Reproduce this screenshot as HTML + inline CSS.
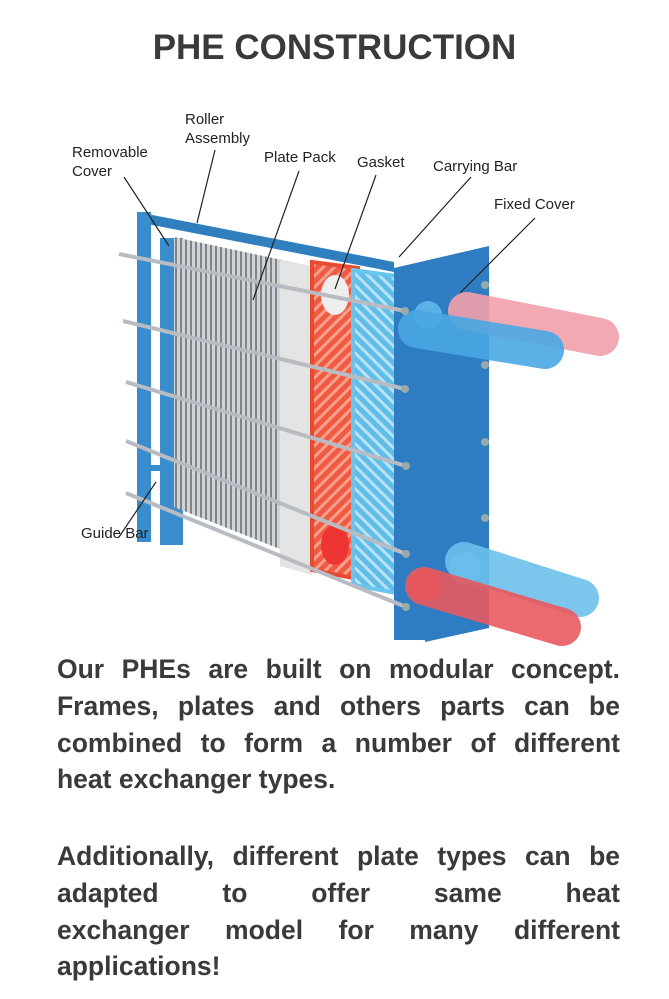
<!DOCTYPE html>
<html><head><meta charset="utf-8"><style>
body{margin:0;width:669px;height:999px;background:#fff;overflow:hidden;position:relative;font-family:"Liberation Sans",sans-serif}
h1{position:absolute;top:28px;left:0;width:669px;text-align:center;margin:0;font-size:35px;font-weight:bold;color:#3a3a3a;letter-spacing:0px}
.p{position:absolute;left:57px;width:563px;font-size:26.5px;font-weight:bold;color:#3a3a3a;line-height:36.8px}
.j{display:block;text-align:justify;text-align-last:justify;white-space:nowrap}
.l{display:block;text-align:left}
svg{position:absolute;left:0;top:0}
</style></head><body>
<h1>PHE CONSTRUCTION</h1>
<svg width="669" height="660" font-family="Liberation Sans, sans-serif" font-size="15" fill="#222">
<defs><pattern id="st" width="5" height="10" patternUnits="userSpaceOnUse"><rect width="5" height="10" fill="#cfd2d6"/><rect width="2" height="10" fill="#7f8488"/></pattern>
<pattern id="rd" width="8" height="8" patternUnits="userSpaceOnUse" patternTransform="rotate(45)"><rect width="8" height="8" fill="#f05a40"/><rect width="3" height="8" fill="#f8a090"/></pattern>
<pattern id="bl" width="8" height="8" patternUnits="userSpaceOnUse" patternTransform="rotate(-45)"><rect width="8" height="8" fill="#5fbde8"/><rect width="3" height="8" fill="#b8e2f5"/></pattern></defs>
<polygon points="137,212 394,262 394,272 137,222" fill="#2f7fbf"/>
<rect x="137" y="212" width="14" height="330" fill="#3a8dcc"/>
<polygon points="160,238 183,238 183,545 160,545" fill="#3a8dcc"/>
<rect x="151" y="465" width="10" height="6" fill="#3a8dcc"/>
<polygon points="174,237 310,266 310,561 174,507" fill="url(#st)"/>
<polygon points="280,260 312,266 312,575 280,566" fill="#e4e4e4"/>
<polygon points="312,262 358,268 358,579 312,570" fill="url(#rd)" stroke="#e84a30" stroke-width="4"/>
<ellipse cx="335" cy="295" rx="14" ry="20" fill="#eee"/>
<ellipse cx="335" cy="545" rx="14" ry="20" fill="#e33"/>
<polygon points="353,270 396,276 396,593 353,585" fill="url(#bl)" stroke="#6ac4ee" stroke-width="4"/>
<polygon points="394,268 489,246 489,628 425,642 425,640 394,640" fill="#2e7cc2"/>
<circle cx="428" cy="315" r="14" fill="#5ab2e6"/><circle cx="465" cy="568" r="16" fill="#5ab2e6"/><circle cx="425" cy="585" r="16" fill="#d94848"/>
<line x1="467" y1="311" x2="600" y2="337" stroke="#f2a0aa" stroke-width="38" stroke-linecap="round" opacity=".9"/>
<line x1="417" y1="329" x2="545" y2="350" stroke="#4aa8e4" stroke-width="38" stroke-linecap="round" opacity=".9"/>
<line x1="464" y1="561" x2="580" y2="598" stroke="#6cc0ec" stroke-width="38" stroke-linecap="round" opacity=".9"/>
<line x1="424" y1="586" x2="562" y2="627" stroke="#e85a60" stroke-width="38" stroke-linecap="round" opacity=".9"/>
<g stroke="#b8bcc2" stroke-width="4">
<line x1="119" y1="254" x2="405" y2="311"/><line x1="123" y1="321" x2="405" y2="389"/><line x1="126" y1="382" x2="406" y2="466"/><line x1="126" y1="441" x2="406" y2="554"/><line x1="126" y1="493" x2="406" y2="607"/></g>
<g fill="#9aa"><circle cx="405" cy="311" r="4"/><circle cx="405" cy="389" r="4"/><circle cx="406" cy="466" r="4"/><circle cx="406" cy="554" r="4"/><circle cx="406" cy="607" r="4"/><circle cx="485" cy="285" r="4"/><circle cx="485" cy="365" r="4"/><circle cx="485" cy="442" r="4"/><circle cx="485" cy="518" r="4"/></g>
<g stroke="#222" stroke-width="1.2">
<line x1="124" y1="177" x2="169" y2="246"/><line x1="215" y1="150" x2="197" y2="223"/><line x1="299" y1="171" x2="253" y2="300"/><line x1="376" y1="175" x2="335" y2="289"/><line x1="471" y1="177" x2="399" y2="257"/><line x1="535" y1="218" x2="460" y2="293"/><line x1="119" y1="537" x2="156" y2="482"/></g>
<text x="185" y="124">Roller</text><text x="185" y="143">Assembly</text>
<text x="72" y="157">Removable</text><text x="72" y="176">Cover</text>
<text x="264" y="162">Plate Pack</text><text x="357" y="167">Gasket</text>
<text x="433" y="171">Carrying Bar</text><text x="494" y="209">Fixed Cover</text>
<text x="81" y="538">Guide Bar</text>
</svg>
<div class="p" style="top:651px"><span class="j">Our PHEs are built on modular concept.</span><span class="j">Frames, plates and others parts can be</span><span class="j">combined to form a number of different</span><span class="l">heat exchanger types.</span></div>
<div class="p" style="top:838px"><span class="j">Additionally, different plate types can be</span><span class="j">adapted to offer same heat</span><span class="j">exchanger model for many different</span><span class="l">applications!</span></div>
</body></html>
